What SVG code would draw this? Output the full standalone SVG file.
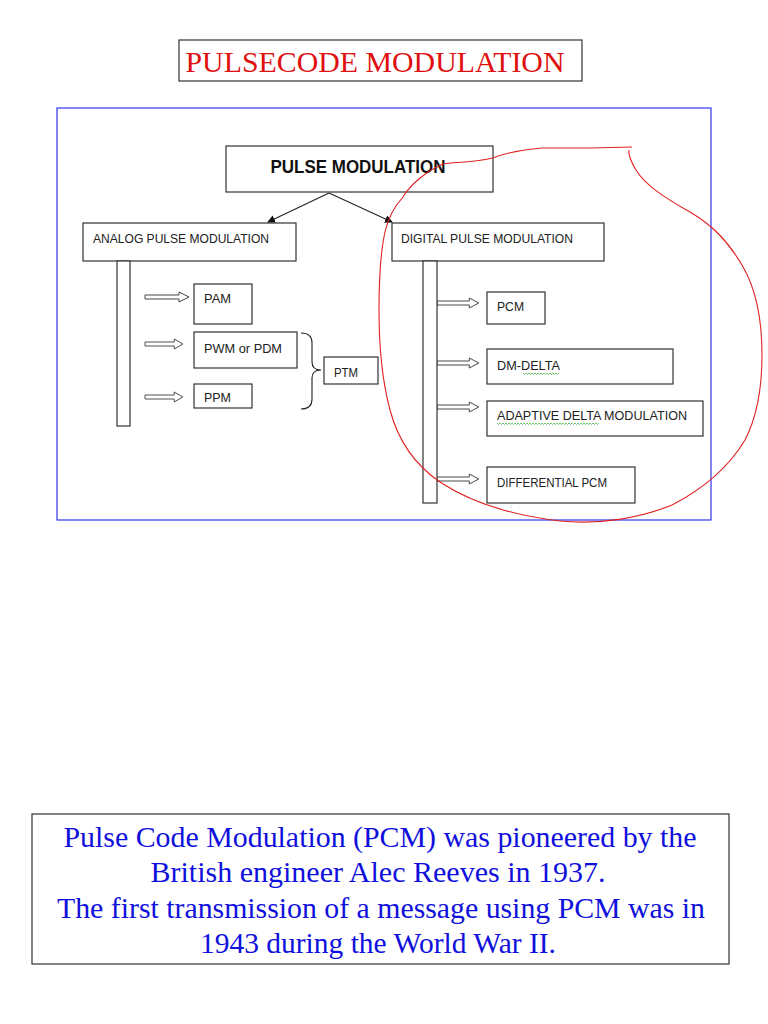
<svg xmlns="http://www.w3.org/2000/svg" width="768" height="1024" viewBox="0 0 768 1024">
<style>
.box{fill:#fff;stroke:#333;stroke-width:1.2}
.lbl{font-family:"Liberation Sans",Arial,sans-serif;font-size:13px;fill:#222}
.barr{fill:#fff;stroke:#444;stroke-width:1}
.conn{stroke:#222;stroke-width:1.1;fill:none}
.squig{fill:none;stroke:#3a3;stroke-width:0.7}
</style>
<defs>
<marker id="ah" markerWidth="8" markerHeight="8" refX="7" refY="4" orient="auto" markerUnits="userSpaceOnUse">
<path d="M0,0 L8,4 L0,8 Z" fill="#111"/>
</marker>
<path id="barrow" d="M0,-2 L34,-2 L34,-5 L44,0 L34,5 L34,2 L0,2 Z"/>
</defs>
<rect width="768" height="1024" fill="#fff"/>

<g id="title">
<rect x="179" y="40" width="403" height="41" fill="#fff" stroke="#333" stroke-width="1.2"/>
<text x="375" y="72" text-anchor="middle" font-family="Liberation Serif,Times New Roman,serif" font-size="29" fill="#e01010" textLength="379" lengthAdjust="spacingAndGlyphs">PULSECODE MODULATION</text>
</g>

<rect id="frame" x="57" y="108" width="654" height="412" fill="none" stroke="#3333ee" stroke-width="1.2"/>

<g id="connectors">
<line class="conn" x1="329" y1="193" x2="268" y2="222" marker-end="url(#ah)"/>
<line class="conn" x1="329" y1="193" x2="392" y2="222" marker-end="url(#ah)"/>
<use href="#barrow" class="barr" x="145" y="297"/>
<use href="#barrow" class="barr" x="145" y="344" transform="translate(145,344) scale(0.86,1) translate(-145,-344)"/>
<use href="#barrow" class="barr" x="145" y="397" transform="translate(145,397) scale(0.86,1) translate(-145,-397)"/>
<use href="#barrow" class="barr" x="437" y="303" transform="translate(437,303) scale(0.95,1) translate(-437,-303)"/>
<use href="#barrow" class="barr" x="437" y="363" transform="translate(437,363) scale(0.95,1) translate(-437,-363)"/>
<use href="#barrow" class="barr" x="437" y="407" transform="translate(437,407) scale(0.95,1) translate(-437,-407)"/>
<use href="#barrow" class="barr" x="437" y="479" transform="translate(437,479) scale(0.95,1) translate(-437,-479)"/>
<path class="conn" d="M301,333 Q312,333 312,343 L312,362 Q312,370 321,370 Q312,370 312,378 L312,399 Q312,409 301,409" stroke="#444"/>
</g>

<g id="pulse-modulation">
<rect class="box" x="226" y="146" width="267" height="46"/>
<text x="358" y="173" text-anchor="middle" font-family="Liberation Sans,Arial,sans-serif" font-weight="bold" font-size="18" fill="#111" textLength="175" lengthAdjust="spacingAndGlyphs">PULSE MODULATION</text>
</g>

<g id="analog">
<rect class="box" x="83" y="223" width="213" height="38"/>
<text class="lbl" x="93" y="243" textLength="176" lengthAdjust="spacingAndGlyphs">ANALOG PULSE MODULATION</text>
<rect class="box" x="117" y="261" width="13" height="165"/>
</g>

<g id="digital">
<rect class="box" x="392" y="223" width="212" height="38"/>
<text class="lbl" x="401" y="243" textLength="172" lengthAdjust="spacingAndGlyphs">DIGITAL PULSE MODULATION</text>
<rect class="box" x="423" y="261" width="14" height="242"/>
</g>

<g id="pam">
<rect class="box" x="194" y="284" width="58" height="40"/>
<text class="lbl" x="204" y="303" textLength="27" lengthAdjust="spacingAndGlyphs">PAM</text>
</g>
<g id="pwm">
<rect class="box" x="194" y="332" width="103" height="36"/>
<text class="lbl" x="204" y="353" textLength="78" lengthAdjust="spacingAndGlyphs">PWM or PDM</text>
</g>
<g id="ppm">
<rect class="box" x="194" y="384" width="58" height="24"/>
<text class="lbl" x="204" y="402" textLength="27" lengthAdjust="spacingAndGlyphs">PPM</text>
</g>
<g id="ptm">
<rect class="box" x="324" y="357" width="54" height="27"/>
<text class="lbl" x="334" y="377" textLength="24" lengthAdjust="spacingAndGlyphs">PTM</text>
</g>

<g id="pcm">
<rect class="box" x="487" y="292" width="58" height="32"/>
<text class="lbl" x="497" y="311" textLength="27" lengthAdjust="spacingAndGlyphs">PCM</text>
</g>
<g id="dm-delta">
<rect class="box" x="487" y="349" width="186" height="35"/>
<text class="lbl" x="497" y="370" textLength="63" lengthAdjust="spacingAndGlyphs">DM-DELTA</text>
<path class="squig" d="M523,373 l1.5,1.5 l1.5,-1.5 l1.5,1.5 l1.5,-1.5 l1.5,1.5 l1.5,-1.5 l1.5,1.5 l1.5,-1.5 l1.5,1.5 l1.5,-1.5 l1.5,1.5 l1.5,-1.5 l1.5,1.5 l1.5,-1.5 l1.5,1.5 l1.5,-1.5 l1.5,1.5 l1.5,-1.5 l1.5,1.5 l1.5,-1.5 l1.5,1.5 l1.5,-1.5 l1.5,1.5 l1.5,-1.5"/>
</g>
<g id="adm">
<rect class="box" x="487" y="401" width="216" height="35"/>
<text class="lbl" x="497" y="420" textLength="190" lengthAdjust="spacingAndGlyphs">ADAPTIVE  DELTA  MODULATION</text>
<path class="squig" d="M497,423 l1.5,1.5 l1.5,-1.5 l1.5,1.5 l1.5,-1.5 l1.5,1.5 l1.5,-1.5 l1.5,1.5 l1.5,-1.5 l1.5,1.5 l1.5,-1.5 l1.5,1.5 l1.5,-1.5 l1.5,1.5 l1.5,-1.5 l1.5,1.5 l1.5,-1.5 l1.5,1.5 l1.5,-1.5 l1.5,1.5 l1.5,-1.5 l1.5,1.5 l1.5,-1.5 l1.5,1.5 l1.5,-1.5 l1.5,1.5 l1.5,-1.5 l1.5,1.5 l1.5,-1.5 l1.5,1.5 l1.5,-1.5 l1.5,1.5 l1.5,-1.5 l1.5,1.5 l1.5,-1.5 l1.5,1.5 l1.5,-1.5 l1.5,1.5 l1.5,-1.5 l1.5,1.5 l1.5,-1.5 l1.5,1.5 l1.5,-1.5 l1.5,1.5 l1.5,-1.5 l1.5,1.5 l1.5,-1.5 l1.5,1.5 l1.5,-1.5 l1.5,1.5 l1.5,-1.5 l1.5,1.5 l1.5,-1.5 l1.5,1.5 l1.5,-1.5 l1.5,1.5 l1.5,-1.5 l1.5,1.5 l1.5,-1.5 l1.5,1.5 l1.5,-1.5 l1.5,1.5 l1.5,-1.5 l1.5,1.5 l1.5,-1.5 l1.5,1.5 l1.5,-1.5 l1.5,1.5 l1.5,-1.5"/>
</g>
<g id="dpcm">
<rect class="box" x="487" y="467" width="148" height="36"/>
<text class="lbl" x="497" y="487" textLength="110" lengthAdjust="spacingAndGlyphs">DIFFERENTIAL PCM</text>
</g>

<path id="red-circle" fill="none" stroke="#e02020" stroke-width="1.1" d="M632,147 L590,148 L542,148 C520,150 505,153 493,158 C470,163 455,162 443,164 C425,172 410,185 403,197 C393,208 388,218 385,232 C381,250 379,275 379,310 C379,345 382,380 390,410 C398,440 415,465 440,482 C470,502 510,515 560,521 C600,525 640,518 672,505 C705,488 730,465 745,440 C758,415 762,385 762,355 C762,320 757,290 742,265 C727,240 712,225 690,212 C665,198 645,185 636,170 C630,160 628,155 629,150"/>

<g id="note">
<rect x="32" y="814" width="697" height="150" fill="#fff" stroke="#333" stroke-width="1.2"/>
<g font-family="Liberation Serif,Times New Roman,serif" font-size="30" fill="#1010dd" text-anchor="middle">
<text x="380" y="847" textLength="633" lengthAdjust="spacingAndGlyphs">Pulse Code Modulation (PCM) was pioneered by the</text>
<text x="378" y="882" textLength="455" lengthAdjust="spacingAndGlyphs">British engineer Alec Reeves in 1937.</text>
<text x="381" y="918" textLength="648" lengthAdjust="spacingAndGlyphs">The first transmission of a message using PCM was in</text>
<text x="378" y="953" textLength="356" lengthAdjust="spacingAndGlyphs">1943 during the World War II.</text>
</g>
</g>
</svg>
